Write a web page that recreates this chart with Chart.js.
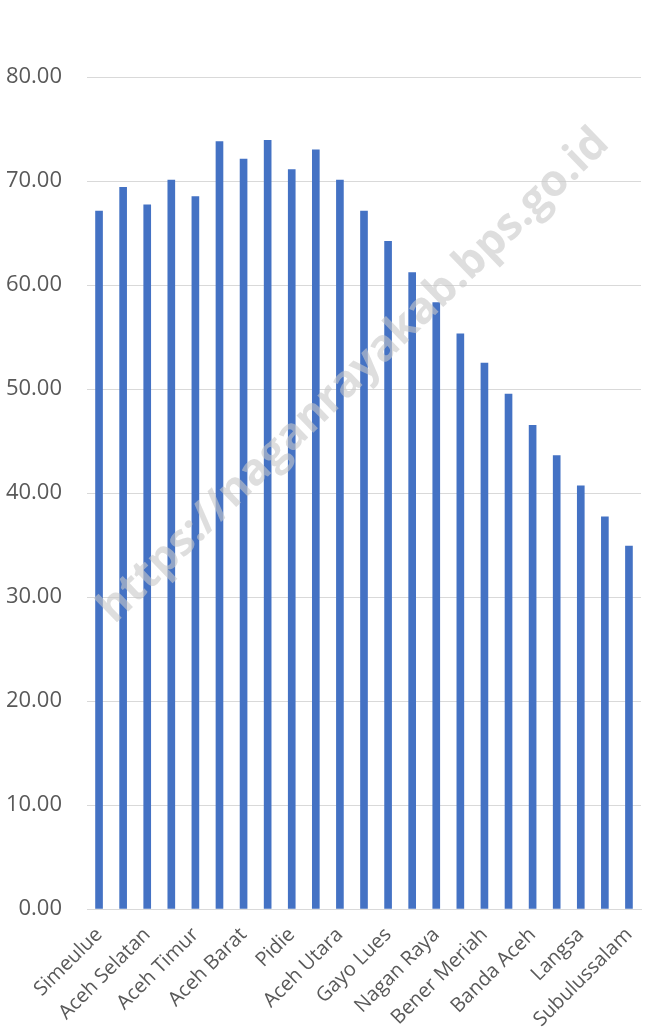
<!DOCTYPE html>
<html>
<head>
<meta charset="utf-8">
<script src="https://cdn.jsdelivr.net/npm/chart.js@4.4.0/dist/chart.umd.min.js"></script>
<style>
  html, body { margin: 0; padding: 0; background: #fff; }
  #wrap { width: 671px; height: 1036px; position: relative; }
</style>
</head>
<body>
<div id="wrap"><canvas id="chart"></canvas></div>
<script>
// Kabupaten/kota in Aceh
const regions = [
    'Simeulue', 'Aceh Singkil', 'Aceh Selatan', 'Aceh Tenggara', 'Aceh Timur',
    'Aceh Tengah', 'Aceh Barat', 'Aceh Besar', 'Pidie', 'Bireuen',
    'Aceh Utara', 'Aceh Barat Daya', 'Gayo Lues', 'Aceh Tamiang', 'Nagan Raya',
    'Aceh Jaya', 'Bener Meriah', 'Pidie Jaya', 'Banda Aceh', 'Sabang',
    'Langsa', 'Lhokseumawe', 'Subulussalam'
];
const values = [
    67.1, 69.4, 67.7, 70.1, 68.5,
    73.8, 72.1, 73.9, 71.1, 73.0,
    70.1, 67.1, 64.2, 61.2, 58.3,
    55.3, 52.5, 49.5, 46.5, 43.6,
    40.7, 37.7, 34.9
];
const yTicks = [0, 10, 20, 30, 40, 50, 60, 70, 80];

const barColor = '#4472c4';
const watermark = 'https://naganrayakab.bps.go.id';

// watermark text drawn over the bars
const watermarkPlugin = {
    id: 'watermark',
    afterDatasetsDraw(chart) {
        const ctx = chart.ctx;
        ctx.save();
        ctx.translate(354, 376);
        ctx.rotate(-44 * Math.PI / 180);
        ctx.font = "bold 44px 'Open Sans', sans-serif";
        ctx.fillStyle = 'rgba(200,200,200,0.6)';
        ctx.textAlign = 'center';
        ctx.textBaseline = 'middle';
        ctx.fillText(watermark, 0, 0);
        ctx.restore();
    }
};

Chart.defaults.font.family = "'Open Sans', sans-serif";
Chart.defaults.color = '#595959';

new Chart(document.getElementById('chart').getContext('2d'), {
    type: 'bar',
    data: {
        labels: regions,
        datasets: [{
            data: values,
            backgroundColor: barColor,
            barThickness: 7
        }]
    },
    options: {
        responsive: true,
        maintainAspectRatio: false,
        animation: false,
        layout: { padding: { top: 77, right: 30, left: 0, bottom: 0 } },
        plugins: {
            legend: { display: false },
            tooltip: { enabled: false }
        },
        scales: {
            x: {
                grid: { display: false, drawTicks: false },
                border: { display: true, color: '#d9d9d9', width: 1 },
                ticks: {
                    autoSkip: false,
                    minRotation: 45,
                    maxRotation: 45,
                    padding: 14,
                    font: { size: 20 },
                    callback: (value, index) => index % 2 === 0 ? regions[index] : ''
                },
                afterFit: (scale) => { scale.height = 127; }
            },
            y: {
                min: 0,
                max: 80,
                afterBuildTicks: (scale) => { scale.ticks = yTicks.map(v => ({ value: v })); },
                grid: { color: '#d9d9d9', drawTicks: false },
                border: { display: false },
                ticks: {
                    padding: 25,
                    font: { size: 22 },
                    callback: (value) => value.toFixed(2)
                },
                afterFit: (scale) => { scale.width = 87; }
            }
        }
    },
    plugins: [watermarkPlugin]
});
</script>
</body>
</html>
